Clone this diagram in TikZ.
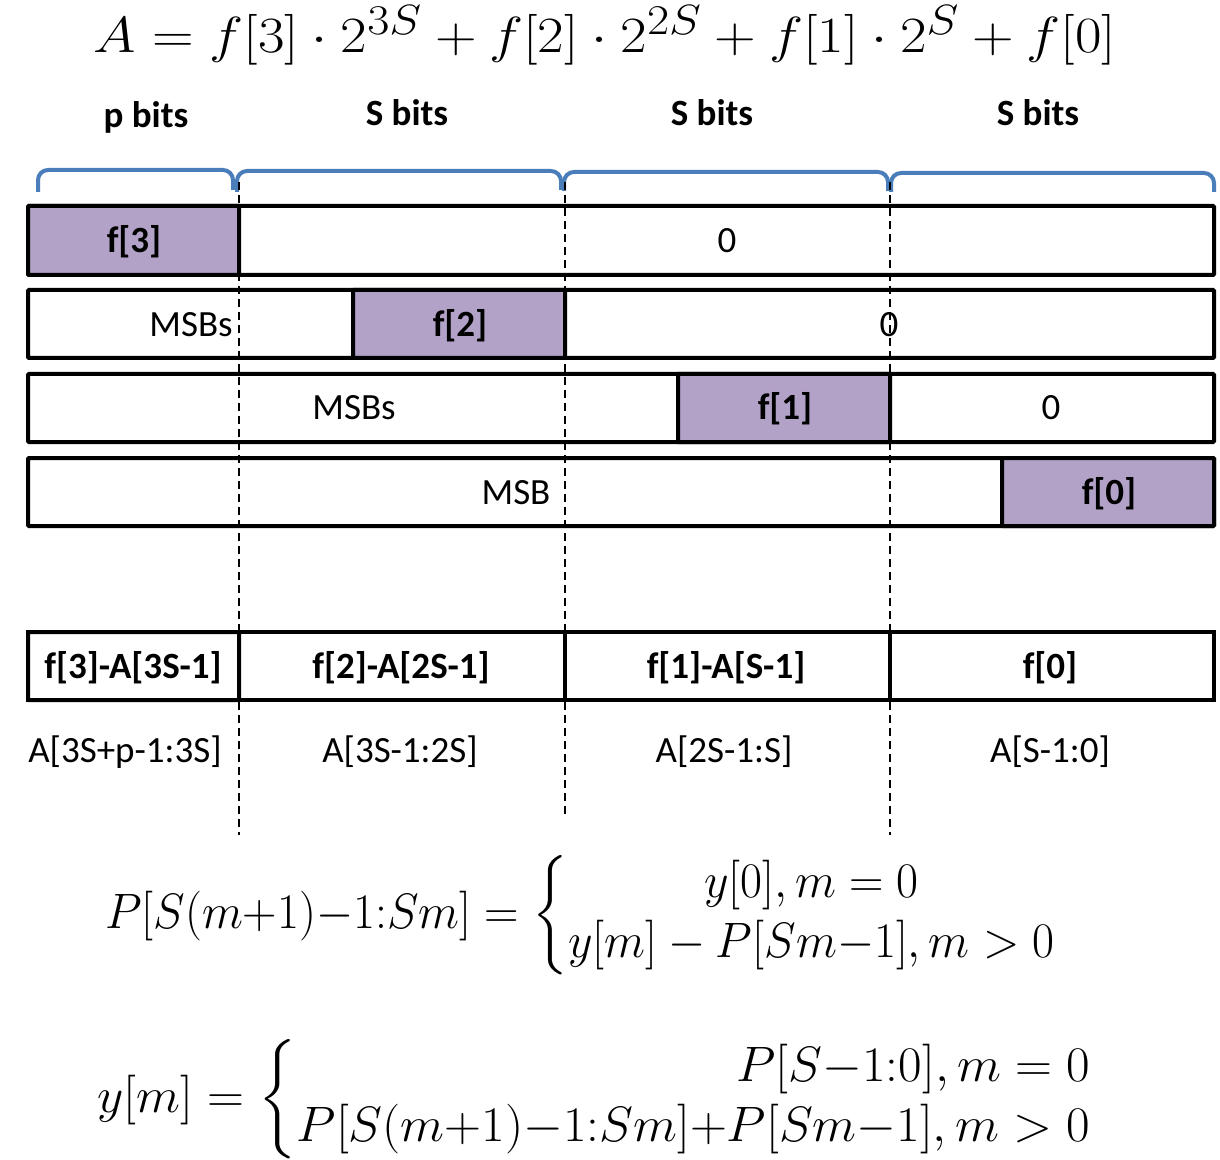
\documentclass[tikz,border=0pt]{standalone}
\usepackage{amsmath}
\usepackage{fontspec}
\setmainfont{Carlito}
\usetikzlibrary{positioning}
\definecolor{bracketblue}{HTML}{4A7EBB}
\definecolor{fieldpurple}{HTML}{B3A2C7}

\begin{document}
\begin{tikzpicture}[x=0.5pt, y=-0.5pt,
  rowbox/.style={draw=black, line width=2pt, rounded corners=0.5pt},
  cellbox/.style={draw=black, line width=1.6pt},
  fieldbox/.style={rowbox, fill=fieldpurple},
  bracket/.style={draw=bracketblue, line width=2pt, rounded corners=5pt},
  guide/.style={draw=black, line width=0.7pt, dash pattern=on 4pt off 2.5pt},
  bitlabel/.style={font=\fontsize{18.5}{22}\selectfont\bfseries, anchor=base, inner sep=0pt},
  celltext/.style={font=\fontsize{18.5}{22}\selectfont, anchor=base, inner sep=0pt},
  boldtext/.style={font=\fontsize{18.5}{22}\selectfont\bfseries, anchor=base, inner sep=0pt},
  mathtext/.style={font=\fontsize{24.88}{30}\selectfont, anchor=base, inner sep=0pt}]

% --- Canvas ---
\fill[white] (0,0) rectangle (1220,1160);

% field boundaries (px)
\def\xL{28}    % left edge
\def\xA{239}   % p | S
\def\xB{565}   % S | S
\def\xC{890}   % S | S
\def\xR{1214}  % right edge
\def\fw{212}   % width of one f[i] box

% --- Top formula ---
\node[mathtext] (sumeq) at (605,53)
  {\scalebox{1.16}[1.02]{$A = f[3]\cdot 2^{3S} + f[2]\cdot 2^{2S} + f[1]\cdot 2^{S} + f[0]$}};

% --- Bit width labels and brackets ---
\node[bitlabel] (pbits) at (146,128) {p bits};
\node[bitlabel] (sbitsA) at (407,126) {S bits};
\node[bitlabel] (sbitsB) at (712,126) {S bits};
\node[bitlabel] (sbitsC) at (1038,126) {S bits};

\draw[bracket] (38,192) -- (38,170) -- (233,170) -- (233,190);
\draw[bracket] (237,192) -- (237,171) -- (561,171) -- (561,190);
\draw[bracket] (564,191) -- (564,172) -- (888,172) -- (888,191);
\draw[bracket] (891,192) -- (891,173) -- (1214,173) -- (1214,192);

% --- Row 1: f[3] << 3S ---
\draw[rowbox] (\xL,206) rectangle (\xR,275);
\draw[fieldbox] (\xL,206) rectangle (\xA,275);
\node[boldtext] (fthree) at (134,253) {f[3]};
\node[celltext] (zeroA) at (727,253) {0};

% --- Row 2: f[2] << 2S ---
\draw[rowbox] (\xL,290) rectangle (\xR,358);
\draw[fieldbox] ({\xB-\fw},290) rectangle (\xB,358);
\node[celltext] (msbsA) at (191,337) {MSBs};
\node[boldtext] (ftwo) at (460,337) {f[2]};
\node[celltext] (zeroB) at (889,337) {0};

% --- Row 3: f[1] << S ---
\draw[rowbox] (\xL,374) rectangle (\xR,442);
\draw[fieldbox] ({\xC-\fw},374) rectangle (\xC,442);
\node[celltext] (msbsB) at (354,420) {MSBs};
\node[boldtext] (fone) at (785,420) {f[1]};
\node[celltext] (zeroC) at (1051,420) {0};

% --- Row 4: f[0] ---
\draw[rowbox] (\xL,458) rectangle (\xR,526);
\draw[fieldbox] ({\xR-\fw},458) rectangle (\xR,526);
\node[celltext] (msbC) at (516,504) {MSB};
\node[boldtext] (fzero) at (1109,504) {f[0]};

% --- Result row ---
\draw[cellbox] (\xL,632) rectangle (\xR,700);
\foreach \x in {\xB,\xC}{
  \draw[cellbox] (\x,632) -- (\x,700);
}
\draw[rowbox] (\xL,632) rectangle (\xA,700);
\node[boldtext] (resA) at (133,678) {f[3]-A[3S-1]};
\node[boldtext] (resB) at (401,678) {f[2]-A[2S-1]};
\node[boldtext] (resC) at (726,678) {f[1]-A[S-1]};
\node[boldtext] (resD) at (1050,678) {f[0]};

\node[celltext] (rangeA) at (125,762) {A[3S+p-1:3S]};
\node[celltext] (rangeB) at (400,762) {A[3S-1:2S]};
\node[celltext] (rangeC) at (724,762) {A[2S-1:S]};
\node[celltext] (rangeD) at (1050,762) {A[S-1:0]};

% --- Dashed guides ---
\coordinate (gtopA) at (\xA,182);  \coordinate (gbotA) at (\xA,835);
\coordinate (gtopB) at (\xB,182);  \coordinate (gbotB) at (\xB,817);
\coordinate (gtopC) at (\xC,182);  \coordinate (gbotC) at (\xC,835);
\draw[guide] (gtopA) -- (gbotA);
\draw[guide] (gtopB) -- (gbotB);
\draw[guide] (gtopC) -- (gbotC);

% --- Recurrences ---
\node[mathtext] (peq) at (581,928)
  {\scalebox{0.96}[1.0]{$P[S(m{+}1){-}1{:}Sm] = \left\{\begin{array}{@{}c@{}}
      y[0], m = 0\\
      y[m] - P[Sm{-}1], m > 0
    \end{array}\right.$}};
\node[mathtext] (yeq) at (595,1112)
  {\scalebox{1.03}[1.0]{$y[m] = \left\{\begin{array}{@{}r@{}}
      P[S{-}1{:}0], m = 0\\
      P[S(m{+}1){-}1{:}Sm]{+}P[Sm{-}1], m > 0
    \end{array}\right.$}};

\end{tikzpicture}
\end{document}
